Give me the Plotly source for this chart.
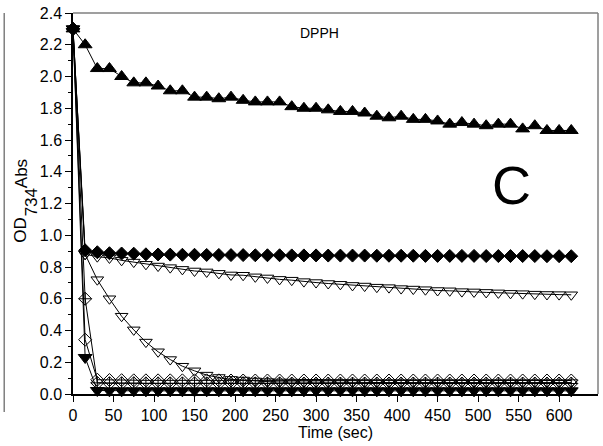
import plotly.graph_objects as go

# Sampling times (s)
TIME = list(range(0, 616, 15))

# Absorbance readings for each sample
tri_up_filled = [2.30, 2.20, 2.05, 2.05, 2.00, 1.96, 1.96, 1.94, 1.91, 1.91,
                 1.87, 1.87, 1.86, 1.87, 1.85, 1.84, 1.84, 1.84, 1.81, 1.80,
                 1.80, 1.79, 1.78, 1.78, 1.77, 1.75, 1.74, 1.75, 1.73, 1.73,
                 1.72, 1.70, 1.71, 1.70, 1.69, 1.70, 1.70, 1.67, 1.69, 1.66,
                 1.66, 1.66]
diamond_filled = [2.30, 0.905, 0.893, 0.887, 0.885, 0.884, 0.880, 0.879, 0.878, 0.877,
                  0.877, 0.876, 0.876, 0.875, 0.875, 0.874, 0.874, 0.874, 0.873, 0.873,
                  0.873, 0.872, 0.872, 0.872, 0.872, 0.871, 0.871, 0.871, 0.871, 0.870,
                  0.870, 0.870, 0.870, 0.870, 0.869, 0.869, 0.869, 0.869, 0.869, 0.868,
                  0.868, 0.868]
tri_down_slow = [2.30, 0.880, 0.865, 0.857, 0.842, 0.831, 0.817, 0.806, 0.796, 0.785,
                 0.775, 0.769, 0.760, 0.750, 0.748, 0.738, 0.731, 0.722, 0.717, 0.708,
                 0.702, 0.696, 0.691, 0.684, 0.680, 0.673, 0.670, 0.664, 0.661, 0.657,
                 0.652, 0.650, 0.645, 0.643, 0.640, 0.637, 0.634, 0.632, 0.629, 0.627,
                 0.626, 0.625]
tri_down_fast = [2.30, 0.880, 0.720, 0.600, 0.490, 0.404, 0.327, 0.266, 0.217, 0.175,
                 0.146, 0.119, 0.104, 0.092, 0.088, 0.082, 0.078, 0.076, 0.075, 0.074,
                 0.074, 0.073, 0.073, 0.073, 0.072, 0.072, 0.072, 0.072, 0.072, 0.072,
                 0.072, 0.072, 0.072, 0.072, 0.072, 0.072, 0.072, 0.072, 0.072, 0.072,
                 0.072, 0.072]
diamond_cross = [2.30, 0.600, 0.070, 0.068, 0.068, 0.068, 0.067, 0.067, 0.067, 0.067,
                 0.067, 0.067, 0.067, 0.067, 0.067, 0.067, 0.067, 0.067, 0.066, 0.066,
                 0.066, 0.066, 0.066, 0.066, 0.066, 0.066, 0.066, 0.066, 0.066, 0.066,
                 0.066, 0.066, 0.066, 0.066, 0.066, 0.066, 0.066, 0.066, 0.066, 0.066,
                 0.066, 0.066]
diamond_open = [2.30, 0.342, 0.090, 0.088, 0.087, 0.086, 0.086, 0.086, 0.086, 0.086,
                0.086, 0.086, 0.086, 0.085, 0.085, 0.085, 0.085, 0.085, 0.085, 0.085,
                0.085, 0.085, 0.085, 0.085, 0.085, 0.085, 0.085, 0.085, 0.085, 0.085,
                0.085, 0.085, 0.085, 0.085, 0.085, 0.085, 0.085, 0.085, 0.085, 0.085,
                0.085, 0.085]
tri_down_filled = [2.30, 0.230, 0.022, 0.020, 0.020, 0.020, 0.020, 0.020, 0.020, 0.020,
                   0.020, 0.020, 0.020, 0.020, 0.020, 0.020, 0.020, 0.020, 0.020, 0.020,
                   0.020, 0.020, 0.020, 0.020, 0.020, 0.020, 0.020, 0.020, 0.020, 0.020,
                   0.020, 0.020, 0.020, 0.020, 0.020, 0.020, 0.020, 0.020, 0.020, 0.020,
                   0.020, 0.020]

X_TICKS = list(range(0, 601, 50))
Y_TICKS = [0.0, 0.2, 0.4, 0.6, 0.8, 1.0, 1.2, 1.4, 1.6, 1.8, 2.0, 2.2, 2.4]

FONT = "Liberation Sans, Arial, sans-serif"

fig = go.Figure()


def add_series(values, symbol, size):
    fig.add_trace(go.Scatter(
        x=TIME, y=values, mode="lines+markers",
        line=dict(color="black", width=1),
        marker=dict(symbol=symbol, size=size, color="black",
                    line=dict(color="black", width=1)),
        cliponaxis=False, showlegend=False, hoverinfo="x+y",
    ))


add_series(tri_down_fast, "triangle-down-open", 11)
add_series(tri_down_slow, "triangle-down-open", 11)
add_series(diamond_cross, "diamond-cross-open", 10)
add_series(diamond_open, "diamond-open", 10)
add_series(tri_down_filled, "triangle-down", 12)
add_series(diamond_filled, "diamond", 10)
add_series(tri_up_filled, "triangle-up", 12)


def rotated_label(text, x, y):
    # y-axis title pieces, written bottom-to-top
    return dict(text=text, textangle=-90, xref="paper", yref="paper",
                x=x, y=y, xanchor="center", yanchor="middle",
                showarrow=False, font=dict(size=17))


fig.update_layout(
    width=603, height=446,
    margin=dict(l=73, r=5, t=10, b=52),
    paper_bgcolor="white", plot_bgcolor="white",
    font=dict(family=FONT, size=16, color="black"),
    xaxis=dict(
        range=[0, 648], tickvals=X_TICKS, ticks="outside", ticklen=6,
        tickwidth=1, tickcolor="black", showline=True, linecolor="black",
        linewidth=1.5, showgrid=False, zeroline=False,
        tickfont=dict(size=16),
        title=dict(text="Time (sec)", font=dict(size=16), standoff=0),
    ),
    yaxis=dict(
        range=[0, 2.4], tickvals=Y_TICKS, tickformat=".1f", ticks="outside",
        ticklen=6, tickwidth=1, tickcolor="black", showline=True,
        linecolor="black", linewidth=1.5, showgrid=False, zeroline=False,
        tickfont=dict(size=16),
        minor=dict(dtick=0.1, ticks="outside", ticklen=3, tickcolor="black"),
    ),
    shapes=[
        # top and right frame
        dict(type="line", xref="paper", yref="paper", x0=0, x1=1, y0=1, y1=1,
             line=dict(color="#7f7f7f", width=1.5)),
        dict(type="line", xref="paper", yref="paper", x0=1, x1=1, y0=0, y1=1,
             line=dict(color="#7f7f7f", width=1.5)),
        # panel edge on the left
        dict(type="line", xref="paper", yref="paper", x0=-0.131, x1=-0.131,
             y0=-0.047, y1=1.0, line=dict(color="#7f7f7f", width=1.5)),
    ],
    annotations=[
        rotated_label("OD", -0.099, 0.431),
        rotated_label("734", -0.080, 0.503),
        rotated_label("Abs", -0.099, 0.577),
        dict(text="DPPH", xref="paper", yref="paper", x=0.47, y=0.948,
             xanchor="center", yanchor="middle", showarrow=False,
             font=dict(size=14)),
        dict(text="C", xref="paper", yref="paper", x=0.836, y=0.549,
             xanchor="center", yanchor="middle", showarrow=False,
             font=dict(size=54)),
    ],
)

fig.write_html("out.html")
